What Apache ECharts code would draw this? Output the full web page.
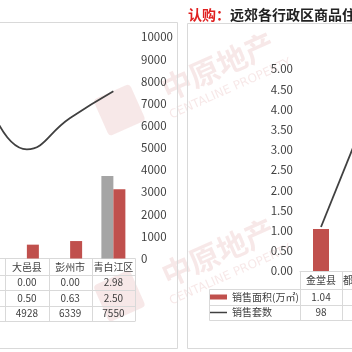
<!DOCTYPE html>
<html><head><meta charset="utf-8">
<script src="https://cdn.jsdelivr.net/npm/echarts@6/dist/echarts.min.js"></script>
<style>html,body{margin:0;padding:0;background:#fff;overflow:hidden;width:352px;height:352px}#c{position:absolute;left:-38px;top:0;width:440px;height:352px}</style>
</head><body><div id="c"></div>
<script>
// ---- data ----
const leftCats = ['', '大邑县', '彭州市', '青白江区'];
const leftGray = [null, 0.00, 0.00, 2.98];
const leftRed = [null, 0.50, 0.63, 2.50];
const leftCount = [7700, 4928, 6339, 7550];
const leftCountAxis = {min: 0, max: 10000, interval: 1000};

const rightCats = ['金堂县', '都江堰市'];
const rightArea = [1.04, null];
const rightCount = [98, 330];
const rightAreaAxis = {min: 0, max: 5, interval: 0.5};

const rightLegendNames = ['销售面积(万㎡)', '销售套数'];
const titleRed = '认购：';
const titleBlack = '远郊各行政区商品住宅成交情况';
const wmCn = '中原地产';
const wmEn = 'CENTALINE PROPERTY';

// ---- layout (screen coords; canvas is shifted left by OFF) ----
const OFF = 38;
const FONT = 'Noto Sans CJK SC';
const RED = '#C0504D', GRAY = '#A5A5A5', LINE = '#404040', GRID = '#D9D9D9', TXT = '#404040';
const WM = 'rgba(192,80,77,0.13)';
const L = {left: -38, top: 37, width: 173, height: 221.5};
const R = {left: 300, top: 69, width: 84, height: 202};

const chart = echarts.init(document.getElementById('c'), null, {renderer: 'canvas'});

function fmtNum(v, d) { return (v === null || v === undefined) ? '' : v.toFixed(d); }

const g = [];
// watermarks
function wm(cx, cy) {
  g.push({type: 'group', silent: true, x: cx + OFF, y: cy, rotation: 0.42, z: 0, children: [
    {type: 'rect', shape: {x: -128, y: -20, width: 40, height: 40, r: 4}, style: {fill: WM}},
    {type: 'text', style: {text: wmCn, x: 0, y: 0, align: 'center', verticalAlign: 'middle', fontSize: 30, fontWeight: 'bold', fontFamily: FONT, fill: WM}},
    {type: 'text', style: {text: wmEn, x: 2, y: 26, align: 'center', verticalAlign: 'middle', fontSize: 12, fontFamily: 'DejaVu Sans', fill: WM}}
  ]});
}
wm(218, 66);
wm(218, 252);

function hline(x1, x2, y) { g.push({type: 'line', silent: true, z: 5, shape: {x1: x1 + OFF, y1: y, x2: x2 + OFF, y2: y}, style: {stroke: GRID, lineWidth: 1}}); }
function vline(x, y1, y2) { g.push({type: 'line', silent: true, z: 5, shape: {x1: x + OFF, y1, x2: x + OFF, y2}, style: {stroke: GRID, lineWidth: 1}}); }
function txt(s, x, y, size, align) { g.push({type: 'text', silent: true, z: 5, style: {text: s, x: x + OFF, y, align: align || 'center', verticalAlign: 'middle', fontSize: size || 10, fontFamily: FONT, fill: TXT}}); }

// panel borders
hline(-38, 177.5, 22.5); vline(177.5, 22.5, 348.5); hline(-38, 177.5, 348.5);
hline(187.5, 400, 23.5); vline(187.5, 23.5, 348.5); hline(187.5, 400, 348.5);

// left data table
const lcw = L.width / leftCats.length;
const lRows = [258.5, 275.5, 290.5, 306.5, 321.5];
for (let i = 1; i < lRows.length; i++) hline(L.left, L.left + L.width, lRows[i]);
for (let i = 0; i <= leftCats.length; i++) vline(Math.round(L.left + i * lcw) + 0.5, lRows[0], lRows[4]);
leftCats.forEach((c, i) => {
  const cx = L.left + (i + 0.5) * lcw;
  txt(c, cx, 267, 10);
  txt(fmtNum(leftGray[i], 2), cx, 282.5, 10);
  txt(fmtNum(leftRed[i], 2), cx, 298.5, 10);
  txt(leftCats[i] === '' ? '' : String(leftCount[i]), cx, 313.5, 10);
});

// right data table
const rcw = R.width / rightCats.length;
const rRows = [271.5, 289.5, 305.5, 320.5];
hline(209.5, R.left + R.width, rRows[1]); hline(209.5, R.left + R.width, rRows[2]); hline(209.5, R.left + R.width, rRows[3]);
vline(209.5, rRows[1], rRows[3]);
for (let i = 0; i <= rightCats.length; i++) vline(Math.round(R.left + i * rcw) + 0.5, rRows[0], rRows[3]);
rightCats.forEach((c, i) => {
  const cx = R.left + (i + 0.5) * rcw;
  txt(c, cx, 280.5, 10);
  txt(fmtNum(rightArea[i], 2), cx, 297, 10);
  txt(String(rightCount[i]), cx, 312.5, 10);
});
// legend keys inside table
g.push({type: 'rect', silent: true, z: 5, shape: {x: 210 + OFF, y: 294.5, width: 17, height: 5}, style: {fill: RED}});
g.push({type: 'line', silent: true, z: 5, shape: {x1: 210 + OFF, y1: 312.5, x2: 227 + OFF, y2: 312.5}, style: {stroke: LINE, lineWidth: 1.5}});
txt(rightLegendNames[0], 232, 297, 10, 'left');
txt(rightLegendNames[1], 232, 312.5, 10, 'left');

const option = {
  animation: false,
  backgroundColor: '#fff',
  title: {
    left: 183 + OFF, top: 3,
    text: '{r|' + titleRed + '}{b|' + titleBlack + '}',
    textStyle: {rich: {
      r: {color: '#E02020', fontSize: 14, fontWeight: 'bold', fontFamily: FONT},
      b: {color: '#222', fontSize: 14, fontWeight: 'bold', fontFamily: FONT}
    }}
  },
  grid: [
    {left: L.left + OFF, top: L.top, width: L.width, height: L.height},
    {left: R.left + OFF, top: R.top, width: R.width, height: R.height}
  ],
  xAxis: [
    {type: 'category', gridIndex: 0, data: leftCats, axisLine: {lineStyle: {color: GRID}}, axisTick: {show: false}, axisLabel: {show: false}},
    {type: 'category', gridIndex: 1, data: rightCats, axisLine: {lineStyle: {color: GRID}}, axisTick: {show: false}, axisLabel: {show: false}}
  ],
  yAxis: [
    {type: 'value', gridIndex: 0, min: 0, max: 8, show: false},
    {type: 'value', gridIndex: 0, position: 'right', min: leftCountAxis.min, max: leftCountAxis.max, interval: leftCountAxis.interval,
      splitLine: {show: false}, axisLine: {show: false}, axisTick: {show: false},
      axisLabel: {margin: 6, color: '#404040', fontSize: 11.5, fontFamily: FONT, formatter: v => String(v)}},
    {type: 'value', gridIndex: 1, position: 'left', min: rightAreaAxis.min, max: rightAreaAxis.max, interval: rightAreaAxis.interval,
      splitLine: {show: false}, axisLine: {show: false}, axisTick: {show: false},
      axisLabel: {margin: 7, color: '#404040', fontSize: 11.5, fontFamily: FONT, formatter: v => v.toFixed(2)}},
    {type: 'value', gridIndex: 1, position: 'right', min: 0, max: 450, show: false}
  ],
  series: [
    {type: 'bar', xAxisIndex: 0, yAxisIndex: 0, data: leftGray, barWidth: 12, barGap: '0%', itemStyle: {color: GRAY}},
    {type: 'bar', xAxisIndex: 0, yAxisIndex: 0, data: leftRed, barWidth: 12, barGap: '0%', itemStyle: {color: RED}},
    {type: 'line', xAxisIndex: 0, yAxisIndex: 1, data: leftCount, smooth: 0.5, symbol: 'none', lineStyle: {color: LINE, width: 1.8}},
    {type: 'bar', xAxisIndex: 1, yAxisIndex: 2, data: rightArea, barWidth: 16, itemStyle: {color: RED}},
    {type: 'line', xAxisIndex: 1, yAxisIndex: 3, data: rightCount, symbol: 'none', lineStyle: {color: LINE, width: 1.8}}
  ],
  graphic: g
};
chart.setOption(option);
</script>
</body></html>
